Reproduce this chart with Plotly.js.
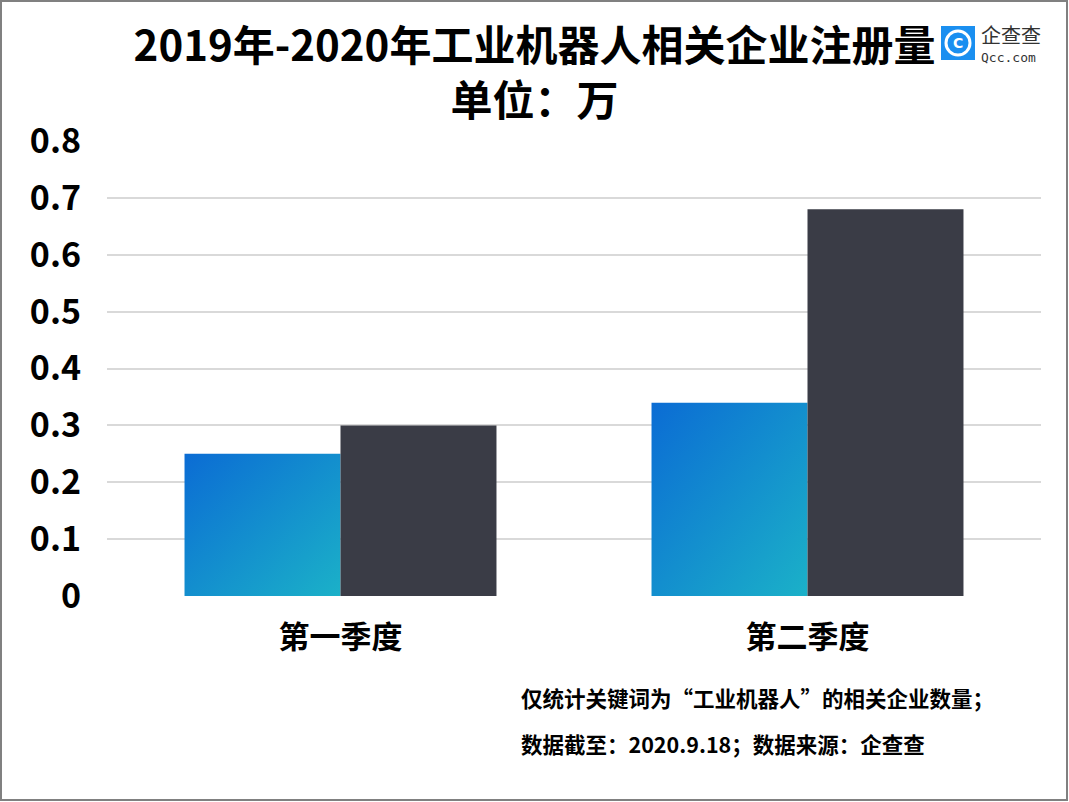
<!DOCTYPE html>
<html><head><meta charset="utf-8">
<script src="https://cdn.plot.ly/plotly-3.0.1.min.js"></script>
<style>html,body{margin:0;padding:0;background:#fff;}#chart{width:1069px;height:802px;}</style>
</head><body><div id="chart"></div>
<script>
const categories = ['第一季度', '第二季度'];
const series2019 = [0.25, 0.34];
const series2020 = [0.30, 0.68];
const yTickVals = [0, 0.1, 0.2, 0.3, 0.4, 0.5, 0.6, 0.7, 0.8];
const yTickText = ['0', '0.1', '0.2', '0.3', '0.4', '0.5', '0.6', '0.7', '0.8'];
const titleText = '2019年-2020年工业机器人相关企业注册量<br>单位：万';
const noteLines = ['仅统计关键词为“工业机器人”的相关企业数量；', '数据截至：2020.9.18；数据来源：企查查'];

const FONT = '"Noto Sans CJK SC", "Noto Sans", sans-serif';

const data = [
  {type: 'bar', name: '2019', x: categories, y: series2019, marker: {color: '#1394D0', line: {width: 0}}, hoverinfo: 'skip'},
  {type: 'bar', name: '2020', x: categories, y: series2020, marker: {color: '#3A3C46', line: {width: 0}}, hoverinfo: 'skip'}
];

// plot area: x 107..1041, y 141..596 (px)
function px(x) { return (x - 107) / 934; }
function py(y) { return (596 - y) / 455; }

const layout = {
  width: 1069, height: 802,
  paper_bgcolor: '#ffffff', plot_bgcolor: '#ffffff',
  margin: {l: 107, r: 28, t: 141, b: 206},
  showlegend: false,
  barmode: 'group', bargap: 0.332, bargroupgap: 0,
  font: {family: FONT, color: '#000000'},
  title: {text: titleText, font: {family: FONT, size: 42, color: '#000000', weight: 700}, x: 0.5, xanchor: 'center', y: 0.924, yanchor: 'top'},
  xaxis: {
    showgrid: false, zeroline: false, showline: false, ticks: '',
    tickfont: {family: FONT, size: 31, color: '#000000', weight: 700},
    ticklabelstandoff: 20
  },
  yaxis: {
    range: [0, 0.8], tickvals: yTickVals, ticktext: yTickText,
    showgrid: true, gridcolor: '#D9D9D9', gridwidth: 2,
    zeroline: false, showline: false, ticks: '',
    tickfont: {family: FONT, size: 34, color: '#000000', weight: 700},
    ticklabelstandoff: 25
  },
  annotations: [
    {text: noteLines[0], xref: 'paper', yref: 'paper', x: px(519), y: py(697), xanchor: 'left', yanchor: 'middle', showarrow: false, font: {family: FONT, size: 21.5, color: '#000000', weight: 700}},
    {text: noteLines[1], xref: 'paper', yref: 'paper', x: px(519), y: py(743), xanchor: 'left', yanchor: 'middle', showarrow: false, font: {family: FONT, size: 21.5, color: '#000000', weight: 700}},
    {text: '企查查', xref: 'paper', yref: 'paper', x: px(979), y: py(35), xanchor: 'left', yanchor: 'middle', showarrow: false, font: {family: FONT, size: 20, color: '#333333'}},
    {text: 'Qcc.com', xref: 'paper', yref: 'paper', x: px(979), y: py(58), xanchor: 'left', yanchor: 'middle', showarrow: false, font: {family: 'DejaVu Sans Mono', size: 13, color: '#333333'}},
    {text: '<b>C</b>', xref: 'paper', yref: 'paper', x: px(958), y: py(43), xanchor: 'center', yanchor: 'middle', showarrow: false, font: {family: 'DejaVu Sans', size: 14, color: '#ffffff'}}
  ],
  shapes: [
    {type: 'rect', xref: 'paper', yref: 'paper', x0: px(1), x1: px(1067), y0: py(800), y1: py(1), line: {color: '#808080', width: 2}, fillcolor: 'rgba(0,0,0,0)', layer: 'below'},
    {type: 'rect', xref: 'paper', yref: 'paper', x0: px(941), x1: px(975), y0: py(60), y1: py(26), line: {width: 0}, fillcolor: '#1A8FF0', layer: 'above'},
    {type: 'circle', xref: 'paper', yref: 'paper', x0: px(946), x1: px(970), y0: py(55), y1: py(31), line: {color: '#ffffff', width: 3}, fillcolor: 'rgba(0,0,0,0)', layer: 'above'}
  ]
};

Plotly.newPlot('chart', data, layout, {staticPlot: true}).then(function(gd){
  const svg = gd.querySelector('svg.main-svg');
  const ns = 'http://www.w3.org/2000/svg';
  let defs = svg.querySelector('defs');
  const grad = document.createElementNS(ns, 'linearGradient');
  grad.setAttribute('id', 'barGrad');
  grad.setAttribute('x1', '0'); grad.setAttribute('y1', '0');
  grad.setAttribute('x2', '1'); grad.setAttribute('y2', '1');
  const s1 = document.createElementNS(ns, 'stop'); s1.setAttribute('offset', '0'); s1.setAttribute('stop-color', '#0B6CD4');
  const s2 = document.createElementNS(ns, 'stop'); s2.setAttribute('offset', '1'); s2.setAttribute('stop-color', '#1BB1C8');
  grad.appendChild(s1); grad.appendChild(s2); defs.appendChild(grad);
  const traces = gd.querySelectorAll('.barlayer .trace');
  if (traces[0]) traces[0].querySelectorAll('path').forEach(p => { p.style.fill = 'url(#barGrad)'; });
});
</script>
</body></html>
